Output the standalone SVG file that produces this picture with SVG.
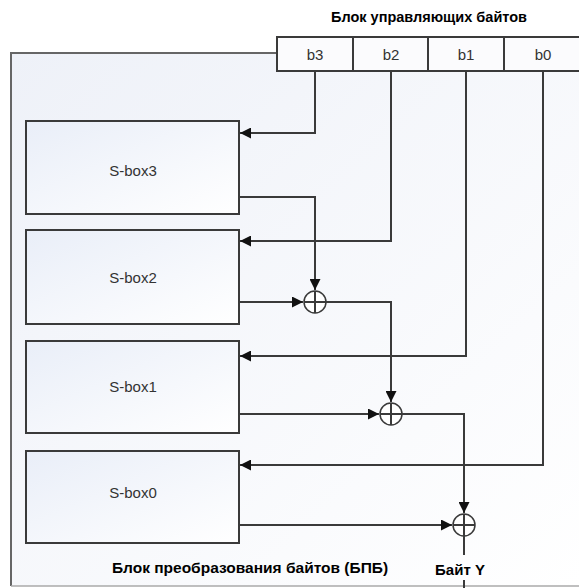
<svg xmlns="http://www.w3.org/2000/svg" width="579" height="588" viewBox="0 0 579 588">
<style>
.box{fill:url(#g);stroke:#3a3a3a;stroke-width:2}
.cell{fill:#fbfbfd;stroke:#3a3a3a;stroke-width:2}
.ln{fill:none;stroke:#3a3a3a;stroke-width:2}
.xor{fill:#fff;stroke:#3a3a3a;stroke-width:1.5}
.t{font-family:"Liberation Sans",Arial,sans-serif;font-size:15px;fill:#333;text-anchor:middle}
.b{font-family:"Liberation Sans",Arial,sans-serif;font-weight:bold;fill:#000;text-anchor:middle}
</style>
<defs>
<linearGradient id="g" x1="0" y1="0" x2="1" y2="1">
<stop offset="0" stop-color="#e9eef8"/>
<stop offset="1" stop-color="#ffffff"/>
</linearGradient>
<linearGradient id="og" x1="0" y1="0" x2="1" y2="1">
<stop offset="0" stop-color="#eef1f8"/>
<stop offset="1" stop-color="#ffffff"/>
</linearGradient>
<marker id="a" viewBox="0 0 10 10" refX="10" refY="5" markerWidth="5.5" markerHeight="5.5" markerUnits="strokeWidth" orient="auto">
<path d="M0,0 L10,5 L0,10 z" fill="#111"/>
</marker>
</defs>
<g id="outer">
<path d="M580,53 L11,53 L11,586 L580,586" fill="url(#og)" stroke="none"/>
<path d="M277,53 L11,53 L11,586" fill="none" stroke="#666" stroke-width="2"/>
<line x1="11" y1="586" x2="579" y2="586" stroke="#aaa" stroke-width="1.5"/>
<text class="b" x="250" y="573" font-size="15.5">Блок преобразования байтов (БПБ)</text>
</g>
<g id="control">
<text class="b" x="429" y="22" font-size="14.5">Блок управляющих байтов</text>
<rect class="cell" x="277" y="37" width="310" height="34"/>
<line class="ln" x1="353" y1="37" x2="353" y2="71"/>
<line class="ln" x1="428" y1="37" x2="428" y2="71"/>
<line class="ln" x1="504" y1="37" x2="504" y2="71"/>
<text class="t" x="315" y="60">b3</text>
<text class="t" x="391" y="60">b2</text>
<text class="t" x="466" y="60">b1</text>
<text class="t" x="543" y="60">b0</text>
</g>
<g id="sbox3"><rect class="box" x="26" y="121" width="213" height="93"/><text class="t" x="133" y="176">S-box3</text></g>
<g id="sbox2"><rect class="box" x="26" y="230" width="213" height="94"/><text class="t" x="133" y="283">S-box2</text></g>
<g id="sbox1"><rect class="box" x="26" y="341" width="213" height="92"/><text class="t" x="133" y="392">S-box1</text></g>
<g id="sbox0"><rect class="box" x="26" y="451" width="213" height="92"/><text class="t" x="133" y="498">S-box0</text></g>
<g id="xor1"><circle class="xor" cx="315" cy="302" r="11"/><path class="ln" d="M304,302 H326 M315,291 V313"/></g>
<g id="xor2"><circle class="xor" cx="391" cy="414" r="11"/><path class="ln" d="M380,414 H402 M391,403 V425"/></g>
<g id="xor3"><circle class="xor" cx="464" cy="525" r="11"/><path class="ln" d="M453,525 H475 M464,514 V536"/></g>
<g id="out"><text class="b" x="460" y="575" font-size="15">Байт Y</text></g>
<g id="connectors">
<path class="ln" d="M315,71 V133 H240" marker-end="url(#a)"/>
<path class="ln" d="M391,71 V241 H240" marker-end="url(#a)"/>
<path class="ln" d="M466,71 V356 H240" marker-end="url(#a)"/>
<path class="ln" d="M543,71 V465 H240" marker-end="url(#a)"/>
<path class="ln" d="M239,197 H315 V290" marker-end="url(#a)"/>
<path class="ln" d="M239,302 H303" marker-end="url(#a)"/>
<path class="ln" d="M326,302 H391 V402" marker-end="url(#a)"/>
<path class="ln" d="M239,414 H379" marker-end="url(#a)"/>
<path class="ln" d="M402,414 H464 V513" marker-end="url(#a)"/>
<path class="ln" d="M239,525 H452" marker-end="url(#a)"/>
<path class="ln" d="M464,536 V555"/>
<path class="ln" d="M464,580 V588"/>
</g>
</svg>
